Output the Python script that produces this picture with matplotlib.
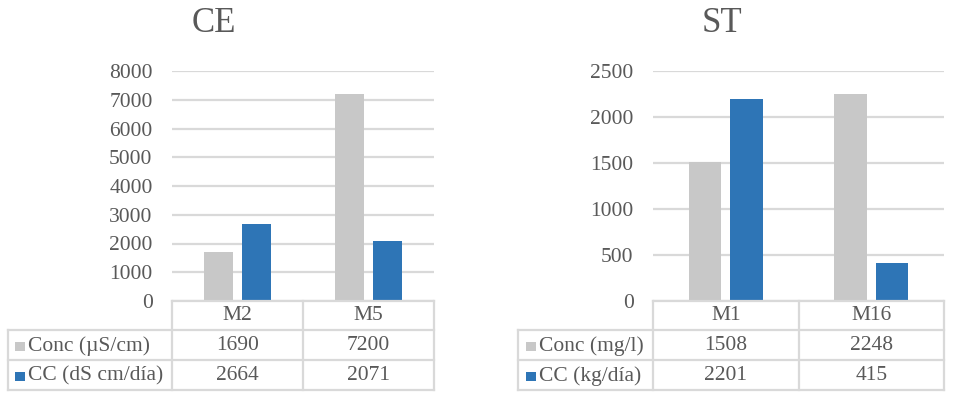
import matplotlib.pyplot as plt
import numpy as np

""" Data """

ce_sites = ['M2', 'M5']
ce_conc = [1690, 7200]
ce_cc = [2664, 2071]
ce_labels = ['Conc (µS/cm)', 'CC (dS cm/día)']
ce_yticks = [0, 1000, 2000, 3000, 4000, 5000, 6000, 7000, 8000]

st_sites = ['M1', 'M16']
st_conc = [1508, 2248]
st_cc = [2201, 415]
st_labels = ['Conc (mg/l)', 'CC (kg/día)']
st_yticks = [0, 500, 1000, 1500, 2000, 2500]

plt.rcParams['font.family'] = ['Liberation Serif', 'DejaVu Serif']

W, H = 959, 401
GRAY = '#C8C8C8'
BLUE = '#2E75B6'
TXT = '#595959'
GRID = '#D9D9D9'
FS = 15.5


def px(x0, y0, x1, y1):
    # pixel box (top-left origin) -> figure fraction rect
    return [x0 / W, (H - y1) / H, (x1 - x0) / W, (y1 - y0) / H]


def panel(fig, title, title_x, sites, conc, cc, labels, yticks,
          lab_left, ax_left, ax_right, key_x):
    top, bottom = 71, 301
    ax = fig.add_axes(px(ax_left, top, ax_right, bottom))
    x = np.arange(len(sites)) + 0.5
    w = 0.222
    gap = 0.031
    ax.bar(x - w / 2 - gap, conc, w, color=GRAY, zorder=3)
    ax.bar(x + w / 2 + gap, cc, w, color=BLUE, zorder=3)
    ax.set_xlim(0, len(sites))
    ax.set_ylim(yticks[0], yticks[-1])
    ax.set_yticks(yticks)
    ax.set_yticklabels([str(t) for t in yticks])
    ax.set_xticks([])
    for s in ax.spines.values():
        s.set_visible(False)
    ax.yaxis.grid(True, color=GRID, linewidth=1.6, zorder=0)
    ax.tick_params(axis='y', length=0, labelsize=FS, labelcolor=TXT, pad=14)

    fig.text(title_x / W, 1 - 23 / H, title, fontsize=25, color=TXT,
             ha='center', va='center')

    # data table under the plot
    t = fig.add_axes([0, 0, 1, 1], facecolor='none')
    t.set_xlim(0, W)
    t.set_ylim(H, 0)
    t.axis('off')
    col_w = (ax_right - ax_left) / len(sites)
    cols = [ax_left + i * col_w for i in range(len(sites) + 1)]
    lc = dict(color=GRID, linewidth=1.6)
    t.plot([ax_left, ax_right], [301, 301], **lc)
    for yy in [330, 360, 390]:
        t.plot([lab_left, ax_right], [yy, yy], **lc)
    t.plot([lab_left, lab_left], [330, 390], **lc)
    for cx in cols:
        t.plot([cx, cx], [301, 390], **lc)

    for i, s in enumerate(sites):
        cx = (cols[i] + cols[i + 1]) / 2
        t.text(cx, 316, s, ha='center', va='center', fontsize=FS, color=TXT)
        t.text(cx, 346, str(conc[i]), ha='center', va='center', fontsize=FS, color=TXT)
        t.text(cx, 376, str(cc[i]), ha='center', va='center', fontsize=FS, color=TXT)

    for yy, lab, col in zip([346, 376], labels, [GRAY, BLUE]):
        t.add_patch(plt.Rectangle((key_x, yy - 4.5), 9.5, 9.5, color=col, lw=0))
        t.text(key_x + 13, yy, lab, ha='left', va='center', fontsize=FS, color=TXT)


fig = plt.figure(figsize=(W / 100, H / 100), dpi=100)
panel(fig, 'CE', 214, ce_sites, ce_conc, ce_cc, ce_labels, ce_yticks,
      8, 172, 434, 15)
panel(fig, 'ST', 722, st_sites, st_conc, st_cc, st_labels, st_yticks,
      518, 653, 944, 526)
fig.savefig('out.png', dpi=100, facecolor='white')
